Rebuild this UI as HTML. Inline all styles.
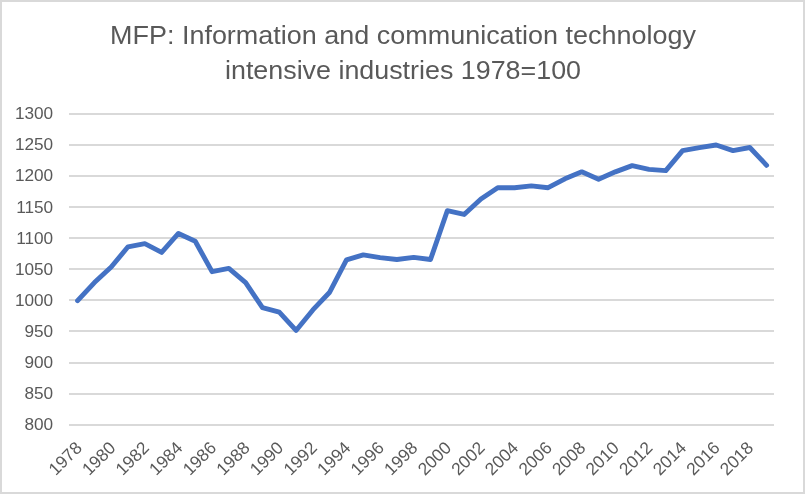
<!DOCTYPE html>
<html><head><meta charset="utf-8"><style>
html,body{margin:0;padding:0;background:#fff;}
body{width:805px;height:494px;overflow:hidden;}
svg{display:block;}
text{font-family:"Liberation Sans",sans-serif;fill:#595959;}
g.t{filter:grayscale(1);}
</style></head><body>
<svg width="805" height="494" viewBox="0 0 805 494">
<rect x="0" y="0" width="805" height="494" fill="#d9d9d9"/>
<rect x="2" y="2" width="801" height="490" fill="#ffffff"/>
<g class="t" font-size="25.4">
<text x="403" y="44" text-anchor="middle" textLength="586" lengthAdjust="spacingAndGlyphs">MFP: Information and communication technology</text>
<text x="403" y="78.6" text-anchor="middle" textLength="356" lengthAdjust="spacingAndGlyphs">intensive industries 1978=100</text>
</g>
<rect x="69" y="113" width="705" height="2" fill="#d9d9d9"/>
<rect x="69" y="144" width="705" height="2" fill="#d9d9d9"/>
<rect x="69" y="175" width="705" height="2" fill="#d9d9d9"/>
<rect x="69" y="206" width="705" height="2" fill="#d9d9d9"/>
<rect x="69" y="237" width="705" height="2" fill="#d9d9d9"/>
<rect x="69" y="268" width="705" height="2" fill="#d9d9d9"/>
<rect x="69" y="299" width="705" height="2" fill="#d9d9d9"/>
<rect x="69" y="330" width="705" height="2" fill="#d9d9d9"/>
<rect x="69" y="362" width="705" height="2" fill="#d9d9d9"/>
<rect x="69" y="393" width="705" height="2" fill="#d9d9d9"/>
<rect x="69" y="424" width="705" height="2" fill="#d9d9d9"/>

<g class="t" font-size="17.2">
<text x="53.2" y="119.2" text-anchor="end">1300</text>
<text x="53.2" y="150.3" text-anchor="end">1250</text>
<text x="53.2" y="181.4" text-anchor="end">1200</text>
<text x="53.2" y="212.5" text-anchor="end">1150</text>
<text x="53.2" y="243.6" text-anchor="end">1100</text>
<text x="53.2" y="274.7" text-anchor="end">1050</text>
<text x="53.2" y="305.8" text-anchor="end">1000</text>
<text x="53.2" y="336.9" text-anchor="end">950</text>
<text x="53.2" y="368.0" text-anchor="end">900</text>
<text x="53.2" y="399.1" text-anchor="end">850</text>
<text x="53.2" y="430.2" text-anchor="end">800</text>

</g>
<g class="t" font-size="17.4">
<text x="0" y="0" text-anchor="end" transform="translate(82.99,449) rotate(-45)">1978</text>
<text x="0" y="0" text-anchor="end" transform="translate(116.56,449) rotate(-45)">1980</text>
<text x="0" y="0" text-anchor="end" transform="translate(150.14,449) rotate(-45)">1982</text>
<text x="0" y="0" text-anchor="end" transform="translate(183.71,449) rotate(-45)">1984</text>
<text x="0" y="0" text-anchor="end" transform="translate(217.28,449) rotate(-45)">1986</text>
<text x="0" y="0" text-anchor="end" transform="translate(250.85,449) rotate(-45)">1988</text>
<text x="0" y="0" text-anchor="end" transform="translate(284.42,449) rotate(-45)">1990</text>
<text x="0" y="0" text-anchor="end" transform="translate(317.99,449) rotate(-45)">1992</text>
<text x="0" y="0" text-anchor="end" transform="translate(351.56,449) rotate(-45)">1994</text>
<text x="0" y="0" text-anchor="end" transform="translate(385.14,449) rotate(-45)">1996</text>
<text x="0" y="0" text-anchor="end" transform="translate(418.71,449) rotate(-45)">1998</text>
<text x="0" y="0" text-anchor="end" transform="translate(452.28,449) rotate(-45)">2000</text>
<text x="0" y="0" text-anchor="end" transform="translate(485.85,449) rotate(-45)">2002</text>
<text x="0" y="0" text-anchor="end" transform="translate(519.42,449) rotate(-45)">2004</text>
<text x="0" y="0" text-anchor="end" transform="translate(552.99,449) rotate(-45)">2006</text>
<text x="0" y="0" text-anchor="end" transform="translate(586.56,449) rotate(-45)">2008</text>
<text x="0" y="0" text-anchor="end" transform="translate(620.14,449) rotate(-45)">2010</text>
<text x="0" y="0" text-anchor="end" transform="translate(653.71,449) rotate(-45)">2012</text>
<text x="0" y="0" text-anchor="end" transform="translate(687.28,449) rotate(-45)">2014</text>
<text x="0" y="0" text-anchor="end" transform="translate(720.85,449) rotate(-45)">2016</text>
<text x="0" y="0" text-anchor="end" transform="translate(754.42,449) rotate(-45)">2018</text>

</g>
<polyline points="77.60,300.60 94.41,282.56 111.21,267.01 128.01,246.80 144.82,243.69 161.62,252.40 178.43,233.42 195.23,241.20 212.04,271.68 228.84,268.38 245.65,282.56 262.45,307.69 279.26,312.11 296.06,330.46 312.87,309.93 329.67,292.20 346.48,259.80 363.28,254.88 380.09,257.68 396.89,259.55 413.70,257.37 430.50,259.55 447.31,210.72 464.12,214.45 480.92,198.97 497.73,187.71 514.53,187.71 531.34,185.84 548.14,187.71 564.94,178.81 581.75,171.85 598.56,179.31 615.36,171.85 632.16,165.63 648.97,169.36 665.77,170.60 682.58,150.70 699.38,147.59 716.19,144.98 733.00,150.57 749.80,147.53 766.61,165.31" fill="none" stroke="#4472c4" stroke-width="4.9" stroke-linejoin="round" stroke-linecap="round"/>
</svg>
</body></html>
